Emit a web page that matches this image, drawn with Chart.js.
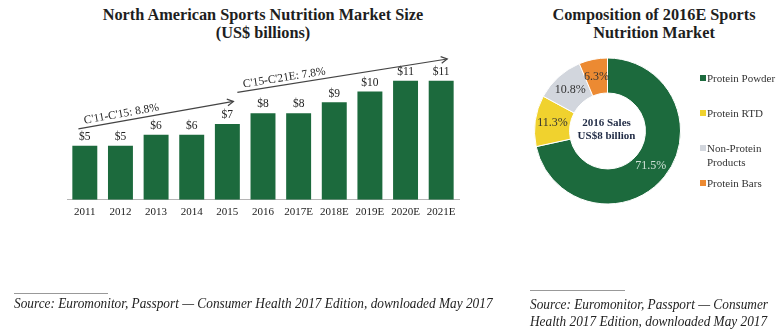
<!DOCTYPE html>
<html>
<head>
<meta charset="utf-8">
<script src="https://cdn.jsdelivr.net/npm/chart.js@4/dist/chart.umd.min.js"></script>
<style>
  html, body { margin:0; padding:0; background:#fff; }
  body { width:784px; height:331px; position:relative; overflow:hidden; font-family:"Liberation Serif", "Times New Roman", serif; color:#222; }
  .title { position:absolute; font-family:"Liberation Serif", serif; font-weight:bold; font-size:16.3px; line-height:18px; text-align:center; color:#1e1e1e; }
  #barWrap { position:absolute; left:0; top:0; width:470px; height:331px; }
  #pieWrap { position:absolute; left:480px; top:0; width:304px; height:331px; }
  .rule { position:absolute; height:1px; background:#999; }
  .src { position:absolute; font-family:"Liberation Serif", serif; font-style:italic; font-size:14px; line-height:17px; color:#222; white-space:nowrap; transform-origin:0 0; transform:scaleX(0.95); }
  #legend { position:absolute; left:700px; top:0; font-family:"Liberation Serif", serif; font-size:11px; color:#333; }
  .lg { position:absolute; left:0; white-space:nowrap; line-height:14px; }
  .lg i { position:absolute; left:0; top:4px; width:6px; height:6px; }
  .lg span { position:absolute; left:7px; top:0; }
</style>
</head>
<body>
<div class="title" style="left:63px; top:6px; width:400px;">North American Sports Nutrition Market Size<br>(US$ billions)</div>
<div class="title" style="left:534px; top:6px; width:240px;">Composition of 2016E Sports<br>Nutrition Market</div>

<div id="barWrap"><canvas id="bar" width="470" height="331"></canvas></div>
<div id="pieWrap"><canvas id="pie" width="304" height="331"></canvas></div>
<div id="legend"></div>

<div class="rule" style="left:14px; top:293px; width:94px;"></div>
<div class="src" style="left:14px; top:295px;">Source: Euromonitor, Passport — Consumer Health 2017 Edition, downloaded May 2017</div>
<div class="rule" style="left:530px; top:290px; width:95px;"></div>
<div class="src" style="left:530px; top:296px;">Source: Euromonitor, Passport — Consumer<br>Health 2017 Edition, downloaded May 2017</div>

<script>
// ---- Bar chart data ----
const years = ['2011','2012','2013','2014','2015','2016','2017E','2018E','2019E','2020E','2021E'];
const marketSize = [5, 5, 6, 6, 7, 8, 8, 9, 10, 11, 11];
const trendLabels = ["C'11-C'15: 8.8%", "C'15-C'21E: 7.8%"];
const trendFrom = [[-0.18, 6.55], [4.28, 9.91]];   // [category index, US$ bn]
const trendTo   = [[4.17, 9.09], [10.17, 13.0]];

// ---- Doughnut data ----
const segments = ['Protein Powder', 'Protein RTD', 'Non-Protein Products', 'Protein Bars'];
const legendLines = [['Protein Powder'], ['Protein RTD'], ['Non-Protein', 'Products'], ['Protein Bars']];
const shares = [71.5, 11.3, 10.8, 6.3];
const centerText = ['2016 Sales', 'US$8 billion'];

const GREEN = '#1c6a3d';
const segColors = [GREEN, '#f0d22e', '#d2d6dd', '#ec8a32'];
const SERIF = '"Liberation Serif", serif';

const barLabels = {
  id: 'barLabels',
  afterDatasetsDraw(chart) {
    const ctx = chart.ctx;
    const meta = chart.getDatasetMeta(0);
    ctx.save();
    ctx.font = '11.5px ' + SERIF;
    ctx.fillStyle = '#222';
    ctx.textAlign = 'center';
    ctx.textBaseline = 'bottom';
    meta.data.forEach((el, i) => {
      ctx.fillText('$' + marketSize[i], el.x, el.y - 3);
    });
    ctx.restore();
  }
};

const trendArrows = {
  id: 'trendArrows',
  afterDraw(chart) {
    const ctx = chart.ctx, xs = chart.scales.x, ys = chart.scales.y;
    ctx.save();
    trendLabels.forEach((lbl, i) => {
      const x1 = xs.getPixelForValue(trendFrom[i][0]), y1 = ys.getPixelForValue(trendFrom[i][1]);
      const x2 = xs.getPixelForValue(trendTo[i][0]), y2 = ys.getPixelForValue(trendTo[i][1]);
      const a = Math.atan2(y2 - y1, x2 - x1);
      ctx.strokeStyle = '#444';
      ctx.lineWidth = 1.2;
      ctx.beginPath(); ctx.moveTo(x1, y1); ctx.lineTo(x2, y2); ctx.stroke();
      const h = 7, w = 0.5;
      ctx.beginPath();
      ctx.moveTo(x2 - h * Math.cos(a - w), y2 - h * Math.sin(a - w));
      ctx.lineTo(x2, y2);
      ctx.lineTo(x2 - h * Math.cos(a + w), y2 - h * Math.sin(a + w));
      ctx.stroke();
      ctx.translate(x1, y1); ctx.rotate(a);
      ctx.font = '11.5px ' + SERIF;
      ctx.fillStyle = '#222';
      ctx.textAlign = 'left';
      ctx.textBaseline = 'alphabetic';
      ctx.fillText(lbl, 7, -4);
      ctx.setTransform(1, 0, 0, 1, 0, 0);
    });
    ctx.restore();
  }
};

new Chart(document.getElementById('bar'), {
  type: 'bar',
  data: { labels: years, datasets: [{ data: marketSize, backgroundColor: GREEN, categoryPercentage: 1, barPercentage: 0.7 }] },
  options: {
    responsive: false, animation: false,
    layout: { padding: { left: 67, right: 11, top: 59, bottom: 106 } },
    plugins: { legend: { display: false }, tooltip: { enabled: false } },
    scales: {
      x: {
        grid: { display: false, drawTicks: false },
        border: { display: true, color: '#b5b5b5', width: 1 },
        ticks: { font: { family: SERIF, size: 11 }, color: '#222', padding: 6, maxRotation: 0, autoSkip: false }
      },
      y: { display: false, min: 0, max: 13 }
    }
  },
  plugins: [barLabels, trendArrows]
});

const donutLabels = {
  id: 'donutLabels',
  afterDatasetsDraw(chart) {
    const ctx = chart.ctx;
    const meta = chart.getDatasetMeta(0);
    ctx.save();
    ctx.textAlign = 'center';
    ctx.textBaseline = 'middle';
    meta.data.forEach((arc, i) => {
      const mid = (arc.startAngle + arc.endAngle) / 2;
      const r = (arc.innerRadius + arc.outerRadius) / 2;
      ctx.font = '12px ' + SERIF;
      ctx.fillStyle = i === 0 ? '#cfe0d6' : '#333';
      ctx.fillText(shares[i].toFixed(1) + '%', arc.x + r * Math.cos(mid), arc.y + r * Math.sin(mid));
    });
    const c = meta.data[0];
    ctx.font = 'bold 11px ' + SERIF;
    ctx.fillStyle = '#1f2a44';
    ctx.fillText(centerText[0], c.x - 1, c.y - 8);
    ctx.fillText(centerText[1], c.x - 1, c.y + 5);
    ctx.restore();
  }
};

new Chart(document.getElementById('pie'), {
  type: 'doughnut',
  data: { labels: segments, datasets: [{ data: shares, backgroundColor: segColors, borderColor: '#fff', borderWidth: 1 }] },
  options: {
    responsive: false, animation: false, cutout: '52%',
    layout: { padding: { left: 54, right: 103, top: 57, bottom: 126 } },
    plugins: { legend: { display: false }, tooltip: { enabled: false } }
  },
  plugins: [donutLabels]
});

// HTML legend built from the data arrays
const legendTops = [71, 106, 141, 176];
const lg = document.getElementById('legend');
legendLines.forEach((lines, i) => {
  const d = document.createElement('div');
  d.className = 'lg';
  d.style.top = legendTops[i] + 'px';
  d.innerHTML = '<i style="background:' + segColors[i] + '"></i><span>' + lines.join('<br>') + '</span>';
  lg.appendChild(d);
});
</script>
</body>
</html>
